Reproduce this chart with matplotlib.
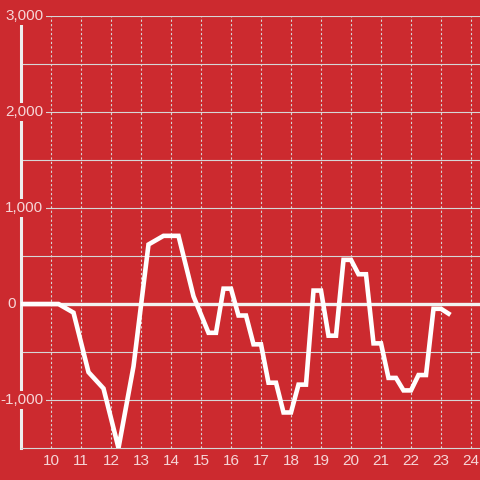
import numpy as np
import matplotlib
matplotlib.use("Agg")
import matplotlib.pyplot as plt
from matplotlib.transforms import blended_transform_factory

# hour of day vs. value (corner points)
hours = [9.0, 10.25, 10.75, 11.25, 11.75, 12.25, 12.75, 13.25, 13.75, 14.25,
         14.75, 15.25, 15.5, 15.75, 16.0, 16.25, 16.5, 16.75, 17.0, 17.25,
         17.5, 17.75, 18.0, 18.25, 18.5, 18.75, 19.0, 19.25, 19.5, 19.75,
         20.0, 20.25, 20.5, 20.75, 21.0, 21.25, 21.5, 21.75, 22.0, 22.25,
         22.5, 22.75, 23.0, 23.25]
values = [0, 0, -90, -710, -880, -1500, -650, 620, 710, 710,
          80, -300, -300, 160, 160, -120, -120, -420, -420, -820,
          -820, -1130, -1130, -840, -840, 140, 140, -330, -330, 460,
          460, 310, 310, -410, -410, -770, -770, -900, -900, -740,
          -740, -50, -50, -100]

x_ticks = list(range(10, 25))
y_grid = [-1000, -500, 500, 1000, 1500, 2000, 2500, 3000]
y_labels = [3000, 2000, 1000, 0, -1000]

BG = '#cc2a2f'
TXT = '#f6d6d7'
GRID = '#d6d6d6'
FS = 11

plt.rcParams['font.family'] = ['Liberation Sans', 'DejaVu Sans']

fig = plt.figure(figsize=(4.8, 4.8), dpi=100, facecolor=BG)
ax = fig.add_axes([21 / 480, 32 / 480, 459 / 480, 432 / 480], facecolor=BG)
ax.set_xlim(9, 24.3)
ax.set_ylim(-1500, 3000)

for y in y_grid:
    ax.axhline(y, color=GRID, lw=0.8, zorder=1)
for x in x_ticks:
    ax.axvline(x, color=GRID, lw=0.8, dashes=(2, 2), zorder=1)
ax.axhline(0, color='#f2f2f2', lw=2.4, zorder=2)

ax.plot(hours, values, color='white', lw=3.3, solid_joinstyle='miter', zorder=4)

for s in ['top', 'right']:
    ax.spines[s].set_visible(False)
ax.spines['left'].set_color('#eeeeee')
ax.spines['left'].set_linewidth(2.2)
ax.spines['bottom'].set_color(GRID)
ax.spines['bottom'].set_linewidth(0.8)

ax.set_xticks(x_ticks)
ax.set_xticklabels([str(x) for x in x_ticks])
ax.tick_params(axis='x', length=0, pad=4.5, labelsize=FS, labelcolor=TXT)
ax.set_yticks([])

# y labels sit on top of the axis line with a background box
trans = blended_transform_factory(fig.transFigure, ax.transData)
for v in y_labels:
    label = f'{v:,}'
    right = 15.5 if v == 0 else 43.5
    ax.text(right / 480, v, label, transform=trans, ha='right', va='center',
            fontsize=FS, color=TXT, zorder=6,
            bbox=dict(boxstyle='square,pad=0.16', facecolor=BG, edgecolor='none'))

fig.savefig('out.png', dpi=100, facecolor=BG)
